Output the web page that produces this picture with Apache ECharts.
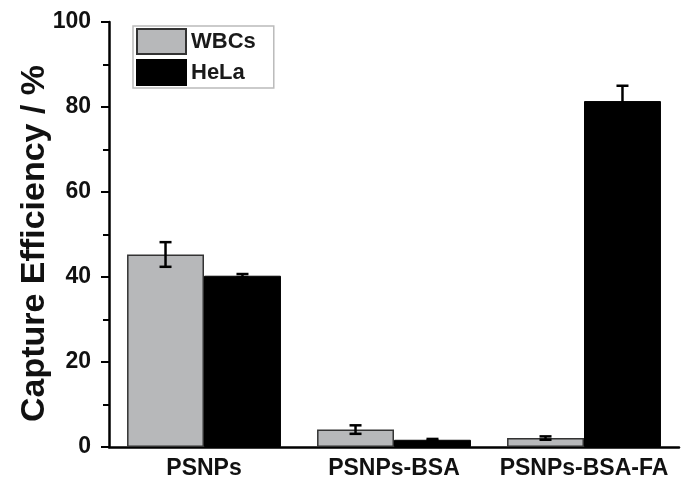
<!DOCTYPE html>
<html><head><meta charset="utf-8">
<script src="https://cdn.jsdelivr.net/npm/echarts@6/dist/echarts.min.js"></script>
<style>html,body{margin:0;padding:0;background:#fff}#c{width:681px;height:483px}</style>
</head><body><div id="c"></div>
<script>
var categories = ['PSNPs', 'PSNPs-BSA', 'PSNPs-BSA-FA'];
var wbcValues = [45.3, 4.1, 2.1];
var wbcErrors = [2.9, 1.0, 0.4];
var helaValues = [40.3, 1.7, 81.4];
var helaErrors = [0.4, 0.2, 3.6];
var yTicks = [0, 20, 40, 60, 80, 100];

var FONT = 'Liberation Sans, Arial, sans-serif';
var chart = echarts.init(document.getElementById('c'));

function errSeries(vals, errs, side) {
  var data = vals.map(function (v, i) { return [i, v, errs[i]]; });
  return {
    type: 'custom',
    z: 10,
    silent: true,
    data: data,
    renderItem: function (params, api) {
      var i = api.value(0), v = api.value(1), e = api.value(2);
      var band = api.size([1, 0])[0];
      var off = side * band * 0.81 / 4;
      var top = api.coord([i, v + e]);
      var bot = api.coord([i, v - e]);
      var x = top[0] + off;
      var hw = 6;
      var st = { stroke: '#000', lineWidth: 2.5 };
      return { type: 'group', children: [
        { type: 'line', shape: { x1: x, y1: top[1], x2: x, y2: bot[1] }, style: st },
        { type: 'line', shape: { x1: x - hw, y1: top[1], x2: x + hw, y2: top[1] }, style: st },
        { type: 'line', shape: { x1: x - hw, y1: bot[1], x2: x + hw, y2: bot[1] }, style: st }
      ]};
    }
  };
}

chart.setOption({
  animation: false,
  textStyle: { fontFamily: FONT },
  grid: { left: 109, right: 2, top: 22, bottom: 36 },
  legend: {
    left: 133, top: 26,
    orient: 'vertical',
    icon: 'rect',
    itemWidth: 49, itemHeight: 25, itemGap: 4,
    padding: [2, 18, 2, 3],
    borderColor: '#bbbbbb', borderWidth: 1.5,
    textStyle: { fontFamily: FONT, fontWeight: 'bold', fontSize: 22, color: '#1a1a1a' },
    data: ['WBCs', 'HeLa']
  },
  xAxis: [{
    type: 'category', data: categories,
    axisLine: { lineStyle: { color: '#000', width: 2.5 } },
    axisTick: { alignWithLabel: true, length: 7, lineStyle: { color: '#000', width: 2 } },
    axisLabel: { interval: 0, fontFamily: FONT, fontWeight: 'bold', fontSize: 23, color: '#111', margin: 10 }
  }, {
    type: 'category', data: categories, position: 'bottom',
    axisLine: { show: false },
    axisTick: { length: 4, lineStyle: { color: '#000', width: 2 } },
    axisLabel: { show: false }
  }],
  yAxis: {
    type: 'value', min: 0, max: 100, interval: 20,
    name: 'Capture Efficiency / %', nameLocation: 'middle', nameGap: 57,
    nameMoveOverlap: false,
    nameTextStyle: { fontFamily: FONT, fontWeight: 'bold', fontSize: 34, color: '#111', padding: [0, 18, 0, 0] },
    axisLine: { show: true, lineStyle: { color: '#000', width: 2.5 } },
    axisTick: { show: true, length: 8, lineStyle: { color: '#000', width: 2 } },
    minorTick: { show: true, splitNumber: 2, length: 6, lineStyle: { color: '#000', width: 2 } },
    splitLine: { show: false },
    axisLabel: { fontFamily: FONT, fontWeight: 'bold', fontSize: 23, color: '#111', margin: 18,
      formatter: function (v) { return yTicks.indexOf(v) >= 0 ? String(v) : ''; } }
  },
  series: [{
    name: 'WBCs', type: 'bar', data: wbcValues, barGap: 0, barCategoryGap: '19%',
    itemStyle: { color: '#b7b8ba', borderColor: '#333', borderWidth: 1.5 }
  }, {
    name: 'HeLa', type: 'bar', data: helaValues, barGap: 0, barCategoryGap: '19%',
    itemStyle: { color: '#000', borderColor: '#000', borderWidth: 1 }
  },
  errSeries(wbcValues, wbcErrors, -1),
  errSeries(helaValues, helaErrors, 1)]
});
</script></body></html>
